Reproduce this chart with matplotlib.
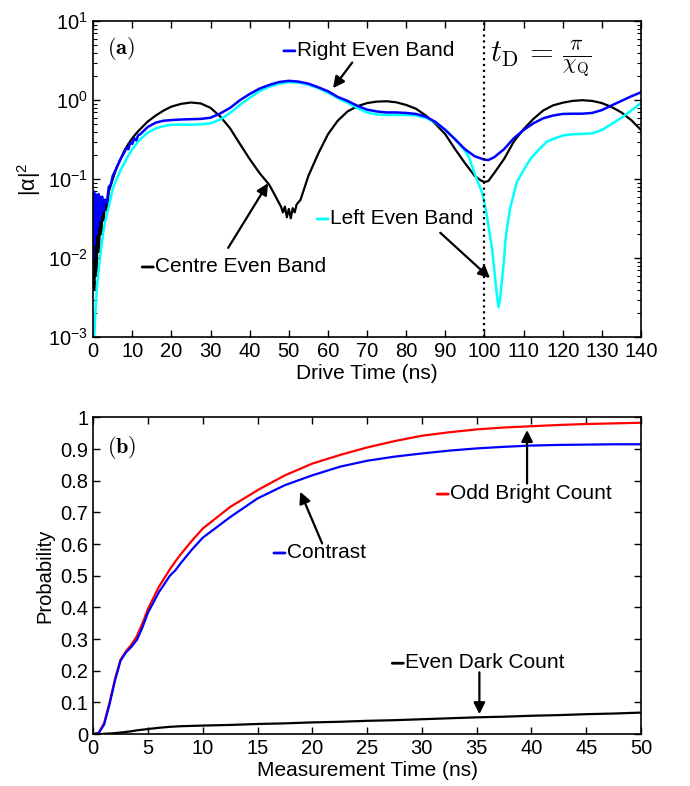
import matplotlib
matplotlib.use("Agg")
import matplotlib.pyplot as plt
from matplotlib.ticker import LogLocator, MultipleLocator, NullFormatter, FixedLocator, FuncFormatter
from matplotlib.transforms import offset_copy

plt.rcParams['font.family'] = ['Liberation Sans', 'DejaVu Sans']
plt.rcParams['mathtext.fontset'] = 'custom'
plt.rcParams['mathtext.rm'] = 'Liberation Sans'
plt.rcParams['mathtext.it'] = 'Liberation Sans:italic'
plt.rcParams['mathtext.bf'] = 'Liberation Sans:bold'

# ---- panel (a): |alpha|^2 vs drive time ----
t_centre = [0, 0.3, 0.6, 0.9, 1.2, 1.5, 1.8, 2.1, 2.4, 2.7, 3.0, 3.5, 4, 5, 6, 7, 8, 9, 10, 11, 12,
            14, 16, 18, 20, 22.5, 25, 27.5, 30, 32.5, 35, 37.5, 40, 42.5, 45, 46.5, 47.5, 48, 48.5,
            49, 49.5, 50, 50.5, 51, 51.5, 52, 53, 55, 57.5, 60, 62.5, 65, 67.5, 70, 72.5, 75, 77.5,
            80, 82.5, 85, 87.5, 90, 92.5, 95, 97.5, 99, 100, 101, 102.5, 105, 107.5, 110, 112.5,
            115, 117.5, 120, 122.5, 125, 127.5, 130, 132.5, 135, 137.5, 140]
centre = [0.012, 0.004, 0.02, 0.006, 0.03, 0.012, 0.04, 0.02, 0.045, 0.03, 0.05, 0.04, 0.07, 0.1,
          0.14, 0.18, 0.23, 0.28, 0.33, 0.38, 0.43, 0.54, 0.64, 0.74, 0.83, 0.9, 0.935, 0.91, 0.8,
          0.62, 0.44, 0.28, 0.18, 0.12, 0.085, 0.062, 0.05, 0.045, 0.038, 0.045, 0.033, 0.042, 0.032,
          0.043, 0.038, 0.048, 0.055, 0.11, 0.21, 0.37, 0.55, 0.72, 0.84, 0.92, 0.96, 0.97, 0.94,
          0.87, 0.78, 0.64, 0.5, 0.37, 0.24, 0.16, 0.11, 0.097, 0.092, 0.095, 0.12, 0.18, 0.3,
          0.43, 0.58, 0.74, 0.86, 0.93, 0.98, 1.0, 0.98, 0.92, 0.82, 0.7, 0.56, 0.42]

t_right = [0, 0.2, 0.4, 0.6, 0.8, 1.0, 1.2, 1.4, 1.6, 1.8, 2.0, 2.3, 2.6, 3.0, 3.5, 4, 4.5, 5, 6, 7,
           8, 8.5, 9, 9.5, 10, 10.5, 11, 11.5, 12, 14, 16, 18, 20, 22.5, 25, 27.5, 30, 32.5, 35,
           37.5, 40, 42.5, 45, 47.5, 50, 52.5, 55, 57.5, 60, 62.5, 65, 67.5, 70, 72.5, 75, 77.5,
           80, 82.5, 85, 87.5, 90, 92.5, 95, 97.5, 100, 101, 102.5, 105, 107.5, 110, 112.5, 115,
           117.5, 120, 122.5, 125, 127.5, 130, 132.5, 135, 137.5, 140]
right = [0.01, 0.07, 0.015, 0.065, 0.02, 0.06, 0.025, 0.065, 0.03, 0.06, 0.035, 0.06, 0.04, 0.055,
         0.05, 0.08, 0.085, 0.11, 0.14, 0.18, 0.22, 0.25, 0.24, 0.29, 0.28, 0.33, 0.31, 0.36, 0.37,
         0.46, 0.52, 0.55, 0.56, 0.57, 0.575, 0.58, 0.6, 0.68, 0.8, 1.0, 1.2, 1.4, 1.56, 1.7, 1.76,
         1.72, 1.62, 1.46, 1.3, 1.1, 0.98, 0.85, 0.76, 0.72, 0.7, 0.7, 0.69, 0.67, 0.62, 0.53,
         0.42, 0.32, 0.24, 0.195, 0.177, 0.175, 0.19, 0.24, 0.33, 0.42, 0.51, 0.59, 0.64, 0.67,
         0.675, 0.675, 0.69, 0.75, 0.86, 0.98, 1.12, 1.26]

t_left = [0.25, 0.5, 0.75, 1, 1.5, 2, 2.5, 3, 4, 5, 6, 7, 8, 9, 10, 12, 14, 16, 18, 20, 22.5, 25,
          27.5, 30, 32.5, 35, 37.5, 40, 42.5, 45, 47.5, 50, 52.5, 55, 57.5, 60, 62.5, 65, 67.5, 70,
          72.5, 75, 77.5, 80, 82.5, 85, 87.5, 90, 92.5, 95, 96, 97.2, 98.2, 99.3, 100, 100.6, 101.3,
          101.9, 102.4, 102.8, 103.2, 103.6, 104, 104.5, 105, 105.3, 105.8, 106.6, 107.5, 108.3,
          110, 111.7, 114, 116, 118, 120.3, 122.5, 125, 127.5, 130, 132.5, 135, 137.5, 140]
left = [0.0009, 0.0018, 0.003, 0.0045, 0.008, 0.013, 0.02, 0.028, 0.045, 0.075, 0.1, 0.13, 0.16,
        0.2, 0.24, 0.32, 0.39, 0.44, 0.47, 0.49, 0.49, 0.49, 0.495, 0.51, 0.57, 0.69, 0.87, 1.07,
        1.3, 1.48, 1.62, 1.69, 1.67, 1.57, 1.42, 1.25, 1.06, 0.93, 0.8, 0.7, 0.66, 0.65, 0.65,
        0.65, 0.64, 0.6, 0.52, 0.42, 0.32, 0.23, 0.19, 0.13, 0.095, 0.07, 0.05, 0.035, 0.021,
        0.0135, 0.008, 0.0051, 0.0033, 0.0024, 0.0031, 0.0055, 0.0095, 0.016, 0.025, 0.044, 0.065,
        0.093, 0.13, 0.18, 0.24, 0.3, 0.33, 0.36, 0.37, 0.375, 0.38, 0.42, 0.5, 0.6, 0.74, 0.92]

t_drive = 100  # t_D marker

# ---- panel (b): probabilities vs measurement time ----
t_meas = [0, 0.5, 1, 1.5, 2, 2.5, 3, 3.5, 4, 4.5, 5, 6, 7, 7.5, 8, 9, 10, 12.5, 15, 17.5, 20,
          22.5, 25, 27.5, 30, 32.5, 35, 37.5, 40, 42.5, 45, 47.5, 50]
odd_bright = [0, 0.004, 0.035, 0.1, 0.175, 0.235, 0.262, 0.283, 0.31, 0.35, 0.395, 0.465, 0.52,
              0.545, 0.568, 0.61, 0.649, 0.717, 0.77, 0.817, 0.854, 0.881, 0.905, 0.925, 0.942,
              0.953, 0.962, 0.968, 0.972, 0.976, 0.979, 0.981, 0.983]
contrast = [0, 0.003, 0.03, 0.095, 0.17, 0.232, 0.258, 0.276, 0.298, 0.337, 0.383, 0.448, 0.5,
            0.517, 0.54, 0.582, 0.62, 0.685, 0.744, 0.786, 0.817, 0.844, 0.863, 0.876, 0.886,
            0.895, 0.902, 0.907, 0.911, 0.913, 0.914, 0.915, 0.915]
even_dark = [0, 0, 0.001, 0.002, 0.003, 0.005, 0.007, 0.009, 0.012, 0.014, 0.016, 0.02, 0.023,
             0.024, 0.025, 0.026, 0.027, 0.029, 0.032, 0.034, 0.037, 0.039, 0.042, 0.044, 0.047,
             0.05, 0.053, 0.055, 0.058, 0.06, 0.063, 0.065, 0.068]
prob_ticks = [0, 0.1, 0.2, 0.3, 0.4, 0.5, 0.6, 0.7, 0.8, 0.9, 1]

FS = 14.5
CYAN = '#00ffff'
BLUE = '#0000ff'
RED = '#ff0000'


def style_axes(ax):
    for sp in ax.spines.values():
        sp.set_linewidth(1.2)
    ax.tick_params(which='both', direction='in', top=True, right=True, labelsize=FS)
    ax.tick_params(which='major', length=5, width=1)
    ax.tick_params(which='minor', length=3, width=0.8)


def tagged(ax, x, y, s, color):
    # coloured dash + label, like a matlab legend entry
    ax.text(x, y, s, ha='left', va='center', fontsize=FS + 0.5)
    end = offset_copy(ax.transData, fig=ax.figure, x=-1.5, y=-0.5, units='points')
    ax.annotate('', xy=(x, y), xycoords=end, xytext=(-8, 0), textcoords='offset points',
                arrowprops=dict(arrowstyle='-', color=color, lw=2, shrinkA=0, shrinkB=0))


def arrow(ax, tip, tail):
    ax.annotate('', xy=tip, xytext=tail,
                arrowprops=dict(arrowstyle='-|>', color='k', lw=1.6,
                                mutation_scale=17, shrinkA=0, shrinkB=0))


fig = plt.figure(figsize=(6.9, 7.86), dpi=100)

# panel (a)
ax1 = fig.add_axes([0.135, 0.571, 0.794, 0.402])
ax1.plot(t_centre, centre, color='k', lw=1.6)
ax1.plot(t_left, left, color=CYAN, lw=1.8)
ax1.plot(t_right, right, color=BLUE, lw=1.8)
ax1.axvline(t_drive, color='k', ls=':', lw=1.6)
ax1.set_yscale('log')
ax1.set_xlim(0, 140)
ax1.set_ylim(1e-3, 1e1)
ax1.xaxis.set_major_locator(MultipleLocator(10))
ax1.yaxis.set_major_locator(LogLocator(base=10, numticks=10))
ax1.yaxis.set_minor_locator(LogLocator(base=10, subs=range(2, 10), numticks=20))
ax1.yaxis.set_minor_formatter(NullFormatter())
style_axes(ax1)
ax1.set_xlabel('Drive Time (ns)', fontsize=FS + 0.5, labelpad=2)
ax1.set_ylabel('|α|$^2$', fontsize=FS + 1, labelpad=4)

ax1.text(0.025, 0.915, r'$\mathbf{(a)}$', transform=ax1.transAxes, fontsize=16,
         va='center', ha='left', math_fontfamily='cm')
ax1.text(101.3, 3.3, r'$t_{\rm D}\,=\,\frac{\pi}{\chi_{\rm Q}}$', fontsize=22,
         va='center', ha='left', math_fontfamily='cm')

tagged(ax1, 52.1, 4.3, 'Right Even Band', BLUE)
arrow(ax1, (61.3, 1.42), (66.2, 3.0))
tagged(ax1, 60.6, 0.032, 'Left Even Band', CYAN)
arrow(ax1, (101.4, 0.0056), (88.7, 0.021))
tagged(ax1, 15.9, 0.0079, 'Centre Even Band', 'k')
arrow(ax1, (44.7, 0.089), (34.5, 0.0135))

# panel (b)
ax2 = fig.add_axes([0.135, 0.066, 0.794, 0.403])
ax2.plot(t_meas, odd_bright, color=RED, lw=1.6)
ax2.plot(t_meas, contrast, color=BLUE, lw=1.6)
ax2.plot(t_meas, even_dark, color='k', lw=1.6)
ax2.set_xlim(0, 50)
ax2.set_ylim(0, 1)
ax2.xaxis.set_major_locator(MultipleLocator(5))
ax2.yaxis.set_major_locator(FixedLocator(prob_ticks))
ax2.yaxis.set_major_formatter(FuncFormatter(lambda v, pos: '%g' % round(v, 1)))
style_axes(ax2)
ax2.set_xlabel('Measurement Time (ns)', fontsize=FS + 0.5, labelpad=2)
ax2.set_ylabel('Probability', fontsize=FS, labelpad=4)

ax2.text(0.025, 0.905, r'$\mathbf{(b)}$', transform=ax2.transAxes, fontsize=16,
         va='center', ha='left', math_fontfamily='cm')
tagged(ax2, 17.7, 0.574, 'Contrast', BLUE)
arrow(ax2, (18.9, 0.765), (20.9, 0.602))
tagged(ax2, 32.6, 0.76, 'Odd Bright Count', RED)
arrow(ax2, (39.6, 0.96), (39.6, 0.791))
tagged(ax2, 28.5, 0.226, 'Even Dark Count', 'k')
arrow(ax2, (35.25, 0.063), (35.25, 0.195))

fig.savefig('out.png', dpi=100)
